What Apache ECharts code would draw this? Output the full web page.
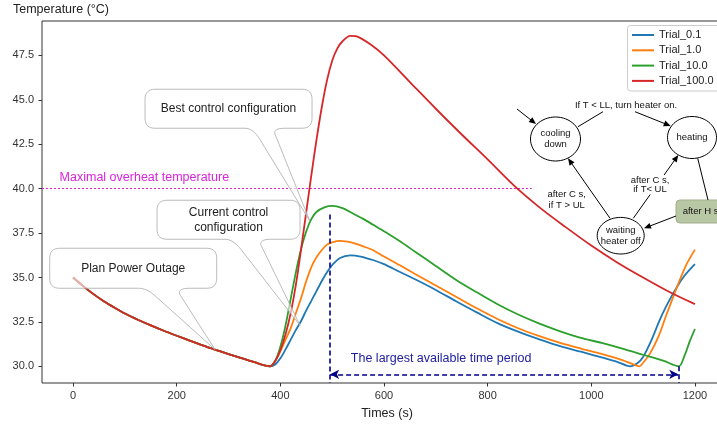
<!DOCTYPE html>
<html>
<head>
<meta charset="utf-8">
<script src="https://cdn.jsdelivr.net/npm/echarts@6/dist/echarts.min.js"></script>
<style>
html, body { margin: 0; background: #fff; }
#main { width: 717px; height: 425px; }
</style>
</head>
<body>
<div id="main"></div>
<script>
// ---- data ----
var trialNames = ['Trial_0.1', 'Trial_1.0', 'Trial_10.0', 'Trial_100.0'];

// cooling phase, shared by all trials
var coolT = [0, 20, 40, 60, 80, 100, 125, 150, 175, 200, 225, 250, 275, 300, 325, 350, 380];
var coolV = [35.0, 34.5, 34.05, 33.65, 33.3, 32.97, 32.62, 32.3, 32.0, 31.72, 31.45, 31.18, 30.93, 30.69, 30.46, 30.23, 30.0];

var blueT = [390, 400, 410, 420, 430, 440, 450, 460, 470, 480, 490, 500, 515, 535, 555, 580, 600, 630, 660, 700, 740, 780, 820, 860, 900, 940, 980, 1020, 1050, 1075, 1090, 1100, 1115, 1132, 1145, 1160, 1178, 1200];
var blueV = [30.1, 30.45, 30.95, 31.5, 32.05, 32.55, 33.15, 33.7, 34.25, 34.8, 35.3, 35.7, 36.1, 36.25, 36.18, 35.97, 35.75, 35.32, 34.9, 34.3, 33.65, 33.02, 32.42, 31.94, 31.52, 31.13, 30.82, 30.5, 30.25, 30.0, 30.2, 30.52, 31.4, 32.6, 33.4, 34.2, 35.03, 35.75];

var orangeT = [390, 400, 410, 420, 430, 440, 450, 460, 470, 480, 490, 500, 515, 540, 560, 580, 600, 630, 660, 700, 740, 780, 820, 860, 900, 940, 980, 1020, 1060, 1080, 1093, 1100, 1113, 1130, 1145, 1160, 1170, 1184, 1200];
var orangeV = [30.3, 30.85, 31.5, 32.15, 33.0, 33.85, 34.8, 35.6, 36.15, 36.55, 36.85, 36.98, 37.06, 36.95, 36.75, 36.52, 36.18, 35.7, 35.2, 34.55, 33.9, 33.25, 32.65, 32.13, 31.7, 31.32, 31.0, 30.7, 30.35, 30.12, 30.0, 30.2, 30.7, 31.7, 32.9, 34.05, 34.8, 35.75, 36.57];

var greenT = [390, 400, 410, 420, 430, 440, 450, 460, 470, 485, 500, 520, 540, 560, 580, 600, 630, 660, 700, 740, 780, 820, 860, 900, 940, 980, 1020, 1060, 1100, 1140, 1169, 1180, 1190, 1200];
var greenV = [30.3, 31.1, 32.3, 33.8, 35.3, 36.6, 37.6, 38.3, 38.7, 38.95, 39.03, 38.9, 38.6, 38.3, 37.95, 37.6, 37.05, 36.45, 35.65, 34.85, 34.15, 33.48, 32.9, 32.4, 31.97, 31.6, 31.32, 31.0, 30.65, 30.3, 30.0, 30.6, 31.4, 32.1];

var redT = [390, 400, 410, 420, 430, 440, 450, 460, 470, 480, 490, 500, 510, 520, 535, 550, 575, 600, 650, 700, 750, 800, 850, 900, 950, 1000, 1050, 1100, 1150, 1200];
var redV = [30.3, 30.9, 31.8, 33.0, 34.6, 36.6, 38.7, 40.8, 42.8, 44.6, 46.1, 47.2, 47.9, 48.3, 48.6, 48.55, 48.1, 47.5, 46.0, 44.5, 43.05, 41.65, 40.2, 38.95, 37.85, 36.8, 35.85, 35.0, 34.2, 33.5];

var xTicks = [0, 200, 400, 600, 800, 1000, 1200];
var yTicks = [30, 32.5, 35, 37.5, 40, 42.5, 45, 47.5];

var overheatLimit = 40;
var overheatEnd = 885;
var windowStart = 496;
var windowEnd = 1168;
var windowTop = 38.55;

var FONT = '"Liberation Sans", Arial, sans-serif';
var colors = ['#1f77b4', '#ff7f0e', '#2ca02c', '#d62728'];
var navy = '#00008b';

function join(t, v) {
    var all = coolT.concat(t);
    var vals = coolV.concat(v);
    return all.map(function (x, i) { return [x, vals[i]]; });
}
var trialData = [join(blueT, blueV), join(orangeT, orangeV), join(greenT, greenV), join(redT, redV)];

var yMin = 29.06, yMax = 49.44;

var chart = echarts.init(document.getElementById('main'));

var series = trialData.map(function (d, i) {
    return {
        name: trialNames[i],
        type: 'line',
        data: d,
        symbol: 'none',
        smooth: 0.3,
        color: colors[i],
        lineStyle: { width: 1.8, color: colors[i] },
        z: 2 + i
    };
});

// reference lines, hung on the last series
series[3].markLine = {
    silent: true,
    symbol: 'none',
    label: { show: false },
    animation: false,
    data: [
        [{ coord: [-60, overheatLimit], lineStyle: { color: '#e020e0', type: [2, 2], width: 1 } },
         { coord: [overheatEnd, overheatLimit] }],
        [{ coord: [windowStart, windowTop], lineStyle: { color: navy, type: [5, 3], width: 1.6 } },
         { coord: [windowStart, yMin] }],
        [{ coord: [windowEnd, 30.0], lineStyle: { color: navy, type: [5, 3], width: 1.6 } },
         { coord: [windowEnd, yMin] }],
        [{ coord: [windowStart, 29.55], symbol: 'arrow', symbolSize: [7, 9], lineStyle: { color: navy, type: [5, 3], width: 1.6 }, itemStyle: { color: navy } },
         { coord: [windowEnd, 29.55], symbol: 'arrow', symbolSize: [7, 9], itemStyle: { color: navy } }]
    ]
};

var option = {
    animation: false,
    textStyle: { fontFamily: FONT },
    grid: {
        left: 42, top: 21, width: 684, height: 362,
        outerBoundsMode: 'none', containLabel: false,
        show: true, borderColor: '#333', borderWidth: 1
    },
    xAxis: {
        type: 'value', min: -60, max: 1260,
        axisLine: { show: false, onZero: false },
        splitLine: { show: false },
        axisTick: { show: true, length: 3.5, lineStyle: { color: '#333' }, customValues: xTicks },
        axisLabel: {
            customValues: xTicks, margin: 7, color: '#333', fontSize: 11, fontFamily: FONT,
            formatter: function (v) { return String(v); }
        }
    },
    yAxis: {
        type: 'value', min: yMin, max: yMax,
        axisLine: { show: false, onZero: false },
        splitLine: { show: false },
        axisTick: { show: true, length: 3.5, lineStyle: { color: '#333' }, customValues: yTicks },
        axisLabel: {
            customValues: yTicks, margin: 8, color: '#333', fontSize: 11, fontFamily: FONT,
            formatter: function (v) { return v.toFixed(1); }
        }
    },
    legend: {
        data: trialNames,
        orient: 'vertical',
        left: 627, top: 24.5,
        padding: [4, 14, 5, 5],
        icon: 'rect',
        itemWidth: 22, itemHeight: 2, itemGap: 2.3,
        z: 12,
        selectedMode: false,
        textStyle: { fontSize: 11, color: '#222', fontFamily: FONT, lineHeight: 13 }
    },
    series: series
};
chart.setOption(option);

// ---- annotations ----
function px(t, v) { return chart.convertToPixel({ gridIndex: 0 }, [t, v]); }

// sample a quadratic bezier into the point list
function quad(pts, p0, c, p1) {
    for (var k = 1; k <= 8; k++) {
        var s = k / 8, u = 1 - s;
        pts.push([u * u * p0[0] + 2 * u * s * c[0] + s * s * p1[0], u * u * p0[1] + 2 * u * s * c[1] + s * s * p1[1]]);
    }
}

var notes = [
    { lines: ['Plan Power Outage'], at: [116, 35.52], tip: [274, 30.94], w: 167, h: 40, lb: 13.5, rb: 48.5 },
    { lines: ['Current control', 'configuration'], at: [300, 38.25], tip: [438, 32.3], w: 143, h: 39, lb: 4.5, rb: 34.5 },
    { lines: ['Best control configuration'], at: [300, 44.5], tip: [457, 38.17], w: 167, h: 39, lb: 24.5, rb: 48.5 }
];

var els = [];

// legend frame, running past the right edge like the original
els.push({
    type: 'rect', z: 11,
    shape: { x: 627.5, y: 25.5, width: 110, height: 65.5, r: 3 },
    style: { fill: 'rgba(255,255,255,0.8)', stroke: '#ccc', lineWidth: 1 }
});

notes.forEach(function (n) {
    var c = px(n.at[0], n.at[1]);
    var tp = px(n.tip[0], n.tip[1]);
    var x0 = c[0] - n.w / 2, x1 = c[0] + n.w / 2, y0 = c[1] - n.h / 2, y1 = c[1] + n.h / 2, r = 10;
    var lb = c[0] + n.lb, rb = c[0] + n.rb;
    var lx = lb + (tp[0] - lb) * 0.12, ly = y1 + (tp[1] - y1) * 0.12;
    var pts = [[x0 + r, y0], [x1 - r, y0]];
    quad(pts, [x1 - r, y0], [x1, y0], [x1, y0 + r]);
    pts.push([x1, y1 - r]);
    quad(pts, [x1, y1 - r], [x1, y1], [x1 - r, y1]);
    pts.push([rb + 8, y1]);
    quad(pts, [rb + 8, y1], [rb - 4, y1], [rb - 2, y1 + 6]);
    pts.push([tp[0], tp[1]]);
    pts.push([lx, ly]);
    quad(pts, [lx, ly], [lb, y1], [lb - 8, y1]);
    pts.push([x0 + r, y1]);
    quad(pts, [x0 + r, y1], [x0, y1], [x0, y1 - r]);
    pts.push([x0, y0 + r]);
    quad(pts, [x0, y0 + r], [x0, y0], [x0 + r, y0]);
    els.push({
        type: 'polygon', z: 50,
        shape: { points: pts },
        style: { fill: 'rgba(255,255,255,0.6)', stroke: '#aaa', lineWidth: 0.8 }
    });
    var lh = 15;
    n.lines.forEach(function (s, i) {
        els.push({
            type: 'text', z: 51,
            x: c[0], y: c[1] + (i - (n.lines.length - 1) / 2) * lh,
            style: { text: s, fill: '#222', font: '12px ' + FONT, align: 'center', verticalAlign: 'middle' }
        });
    });
});

var oh = px(-26, 40.65);
els.push({
    type: 'text', z: 51, x: oh[0], y: oh[1],
    style: { text: 'Maximal overheat temperature', fill: '#dd22dd', font: '12.5px ' + FONT, align: 'left', verticalAlign: 'middle' }
});
var lt = px(536, 30.45);
els.push({
    type: 'text', z: 51, x: lt[0], y: lt[1],
    style: { text: 'The largest available time period', fill: '#2020a0', font: '12.5px ' + FONT, align: 'left', verticalAlign: 'middle' }
});

// axis titles
els.push({
    type: 'text', x: 13, y: 10,
    style: { text: 'Temperature (°C)', fill: '#222', font: '12.5px ' + FONT, align: 'left', verticalAlign: 'middle' }
});
els.push({
    type: 'text', x: 387, y: 414,
    style: { text: 'Times (s)', fill: '#222', font: '12.5px ' + FONT, align: 'center', verticalAlign: 'middle' }
});

// ---- state diagram inset ----
var dFont = '9.5px ' + FONT;
els.push({
    type: 'rect', z: 60,
    shape: { x: 676, y: 200, width: 50, height: 23, r: 4 },
    style: { fill: '#b9c8a4', stroke: '#a0b08a', lineWidth: 1 }
});
els.push({
    type: 'text', z: 61, x: 682.7, y: 211,
    style: { text: 'after H s', fill: '#111', font: dFont, align: 'left', verticalAlign: 'middle' }
});

var nodes = [
    { cx: 555.5, cy: 139, rx: 25, ry: 22, lines: ['cooling', 'down'] },
    { cx: 692, cy: 137.5, rx: 24.5, ry: 21, lines: ['heating'] },
    { cx: 620.7, cy: 235.7, rx: 23.5, ry: 18.3, lines: ['waiting', 'heater off'] }
];
nodes.forEach(function (n) {
    var pts = [];
    for (var k = 0; k < 60; k++) {
        var a = k / 60 * Math.PI * 2;
        pts.push([n.cx + n.rx * Math.cos(a), n.cy + n.ry * Math.sin(a)]);
    }
    els.push({
        type: 'polygon', z: 60,
        shape: { points: pts },
        style: { fill: '#fff', stroke: '#000', lineWidth: 1 }
    });
    n.lines.forEach(function (s, i) {
        els.push({
            type: 'text', z: 61, x: n.cx, y: n.cy + (i - (n.lines.length - 1) / 2) * 10.8,
            style: { text: s, fill: '#111', font: dFont, align: 'center', verticalAlign: 'middle' }
        });
    });
});

var edges = [
    [517, 109, 536, 124, true],
    [578, 126.7, 603, 111.7, false],
    [635, 111.7, 670.7, 126, true],
    [697.7, 158.3, 708, 200, false],
    [676, 216, 644, 228.3, true],
    [610, 218.3, 568, 158.3, true],
    [633.3, 218.3, 678.3, 155, true]
];
edges.forEach(function (e) {
    var x1 = e[0], y1 = e[1], x2 = e[2], y2 = e[3];
    var a = Math.atan2(y2 - y1, x2 - x1), L = 7, W = 3;
    var ex = e[4] ? x2 - Math.cos(a) * L * 0.7 : x2, ey = e[4] ? y2 - Math.sin(a) * L * 0.7 : y2;
    els.push({
        type: 'line', z: 60,
        shape: { x1: x1, y1: y1, x2: ex, y2: ey },
        style: { stroke: '#000', lineWidth: 1 }
    });
    if (e[4]) {
        var bx = x2 - Math.cos(a) * L, by = y2 - Math.sin(a) * L;
        els.push({
            type: 'polygon', z: 60,
            shape: { points: [[x2, y2], [bx + Math.sin(a) * W, by - Math.cos(a) * W], [bx - Math.sin(a) * W, by + Math.cos(a) * W]] },
            style: { fill: '#000' }
        });
    }
});

var dLabels = [
    [626, 105.7, 'If T < LL, turn heater on.'],
    [566.7, 194, 'after C s,'],
    [566.7, 205, 'if T > UL'],
    [650, 180, 'after C s,'],
    [650, 189.5, 'if T< UL']
];
dLabels.forEach(function (l) {
    els.push({
        type: 'text', z: 61, x: l[0], y: l[1],
        style: { text: l[2], fill: '#111', font: dFont, align: 'center', verticalAlign: 'middle', backgroundColor: '#fff', padding: [0, 1] }
    });
});

chart.setOption({ graphic: { elements: els } });
</script>
</body>
</html>
